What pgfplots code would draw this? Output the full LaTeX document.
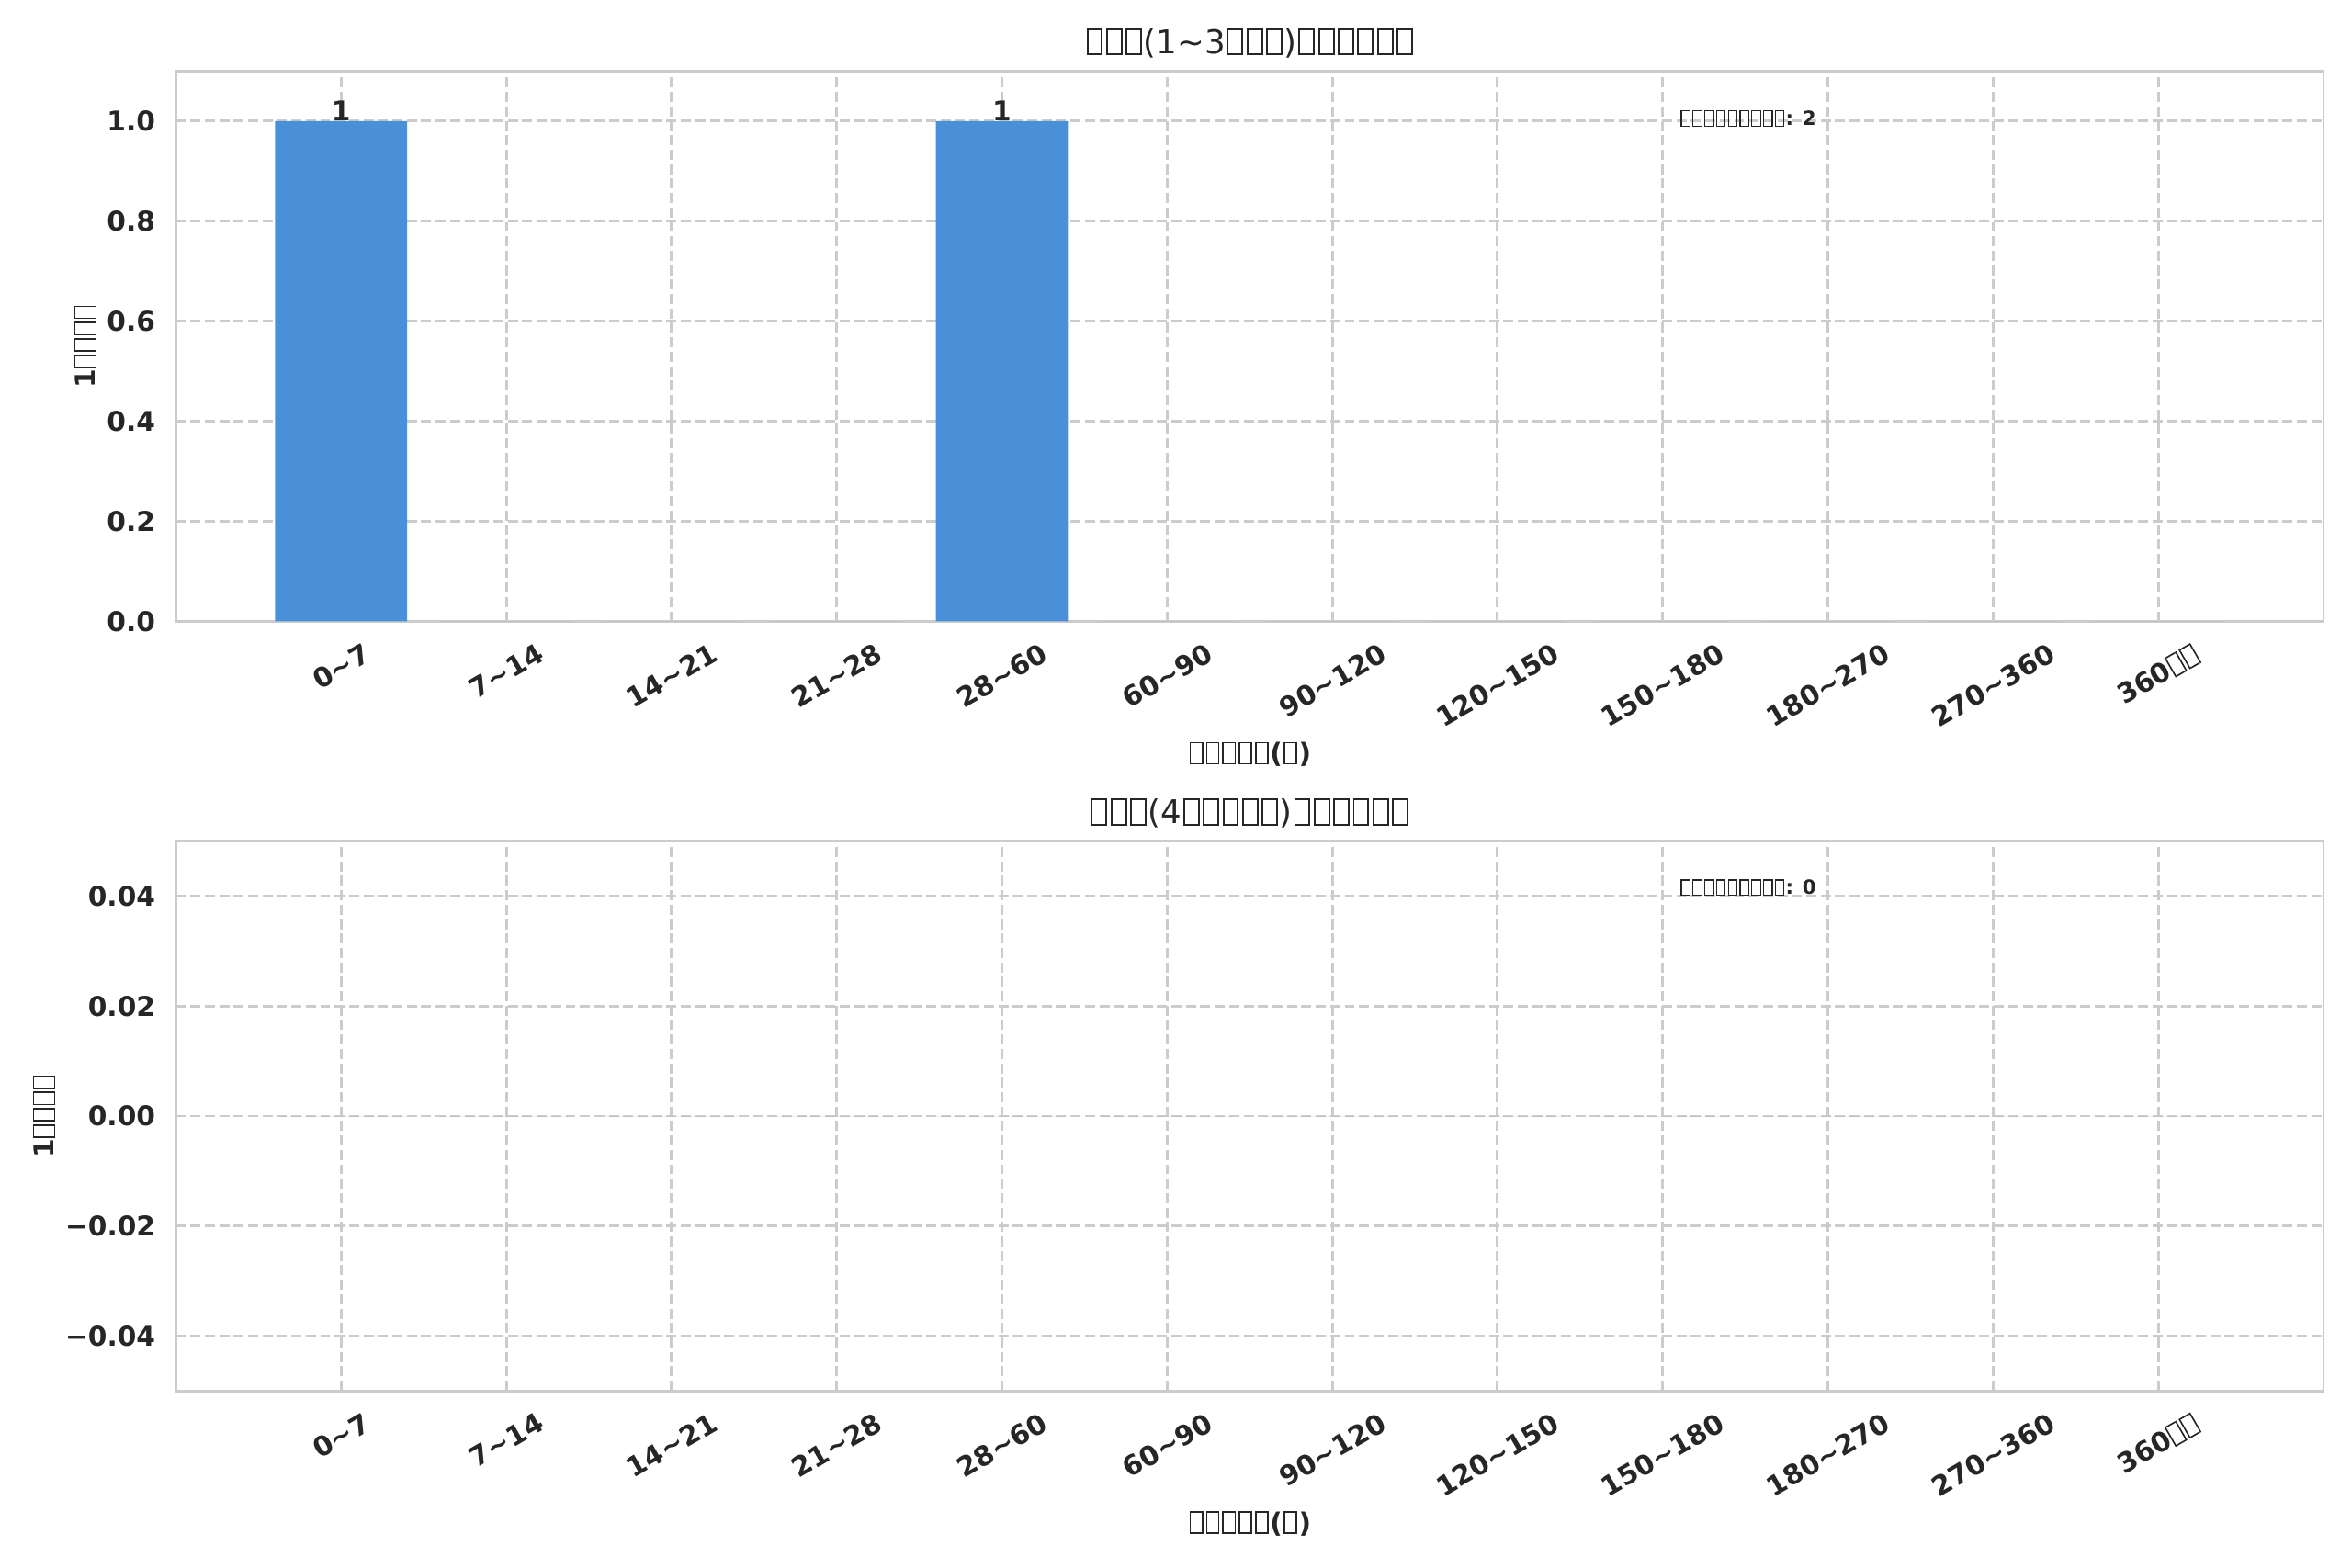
\documentclass[border=0pt]{standalone}
\usepackage{fontspec}
\setmainfont{DejaVu Sans}
\usepackage{graphicx}
\usepackage{pgfplots}
\pgfplotsset{compat=1.18}
\definecolor{txt}{HTML}{262626}
\definecolor{gridc}{HTML}{CCCCCC}
\definecolor{barc}{HTML}{4A90D9}
% missing-glyph box, as the reference renders the CJK characters
\newcommand\tofu{\leavevmode\kern0.05em\lower0.06em\hbox{\vrule width0.055em height0.83em depth0pt\vbox to0.83em{\hrule height0.055em width0.39em\vfil\hrule height0.055em width0.39em}\vrule width0.055em height0.83em depth0pt}\kern0.05em}
\newcommand\rl[1]{\rotatebox{30}{#1}}
\newcommand\tl{\textasciitilde}
\newcommand\tickfont{\fontsize{10bp}{12bp}\selectfont\bfseries}

\pgfplotstableread{
x y
0 1
1 0
2 0
3 0
4 1
5 0
6 0
7 0
8 0
9 0
10 0
11 0
}\topdata
\pgfplotstableread{
x y
0 0
1 0
2 0
3 0
4 0
5 0
6 0
7 0
8 0
9 0
10 0
11 0
}\botdata

\pgfplotsset{
  mystyle/.style={
    scale only axis,
    width=788.9bp,
    xmin=-1, xmax=12,
    xtick={0,...,11},
    xticklabels={\rl{0\tl7},\rl{7\tl14},\rl{14\tl21},\rl{21\tl28},\rl{28\tl60},\rl{60\tl90},\rl{90\tl120},\rl{120\tl150},\rl{150\tl180},\rl{180\tl270},\rl{270\tl360},\rl{360\tofu\tofu}},
    xticklabel style={anchor=north, inner sep=0pt, yshift=-7.5bp, font=\tickfont, text=txt},
    yticklabel style={anchor=east, inner sep=0pt, xshift=-7.4bp, font=\tickfont, text=txt},
    scaled y ticks=false,
    major tick length=0pt,
    grid=major,
    major grid style={gridc, line width=1bp, dash pattern=on 3.7bp off 1.6bp},
    axis line style={gridc, line width=1bp},
    every axis title shift=0pt,
    title style={at={(axis description cs:0.5,1)}, anchor=base, yshift=6.5bp, inner sep=0pt, font=\fontsize{12bp}{14bp}\selectfont, text=txt},
    xlabel style={at={(axis description cs:0.5,0)}, anchor=center, yshift=-48.8bp, inner sep=0pt, font=\tickfont, text=txt},
    ylabel style={at={(axis description cs:0,0.5)}, anchor=center, inner sep=0pt, font=\tickfont, text=txt},
    xlabel={\tofu\tofu\tofu\tofu\tofu(\tofu)},
    ylabel={1\tofu\tofu\tofu\tofu},
  }
}

\begin{document}
\begin{tikzpicture}
\begin{axis}[mystyle,
  at={(64.63bp,549.95bp)}, anchor=north west,
  height=202.16bp,
  ymin=0, ymax=1.1,
  ytick={0,0.2,0.4,0.6,0.8,1.0},
  yticklabels={0.0,0.2,0.4,0.6,0.8,1.0},
  ylabel style={yshift=33.2bp},
  title={\tofu\tofu\tofu(1\tl3\tofu\tofu\tofu)\tofu\tofu\tofu\tofu\tofu\tofu},
]
\addplot[ybar, bar width=0.8, fill=barc, draw=none] table[x=x,y=y] {\topdata};
\addplot[only marks, mark=none, nodes near coords={1},
  nodes near coords style={anchor=south, inner sep=0pt, font=\tickfont, text=txt}]
  coordinates {(0,1) (4,1)};
\node[anchor=west, inner sep=0pt, font=\fontsize{7.2bp}{9bp}\selectfont\bfseries, text=txt]
  at (axis description cs:0.7,0.914) {\tofu\tofu\tofu\tofu\tofu\tofu\tofu\tofu\tofu: 2};
\end{axis}

\begin{axis}[mystyle,
  at={(64.63bp,266.96bp)}, anchor=north west,
  height=201.83bp,
  ymin=-0.05, ymax=0.05,
  ytick={-0.04,-0.02,0,0.02,0.04},
  yticklabels={−0.04,−0.02,0.00,0.02,0.04},
  ylabel style={yshift=48.4bp},
  title={\tofu\tofu\tofu(4\tofu\tofu\tofu\tofu\tofu)\tofu\tofu\tofu\tofu\tofu\tofu},
]
\addplot[ybar, bar width=0.8, fill=barc, draw=none] table[x=x,y=y] {\botdata};
\node[anchor=west, inner sep=0pt, font=\fontsize{7.2bp}{9bp}\selectfont\bfseries, text=txt]
  at (axis description cs:0.7,0.916) {\tofu\tofu\tofu\tofu\tofu\tofu\tofu\tofu\tofu: 0};
\end{axis}
\pgfresetboundingbox
\path[use as bounding box] (0,0) rectangle (864bp,576.11bp);
\end{tikzpicture}
\end{document}
